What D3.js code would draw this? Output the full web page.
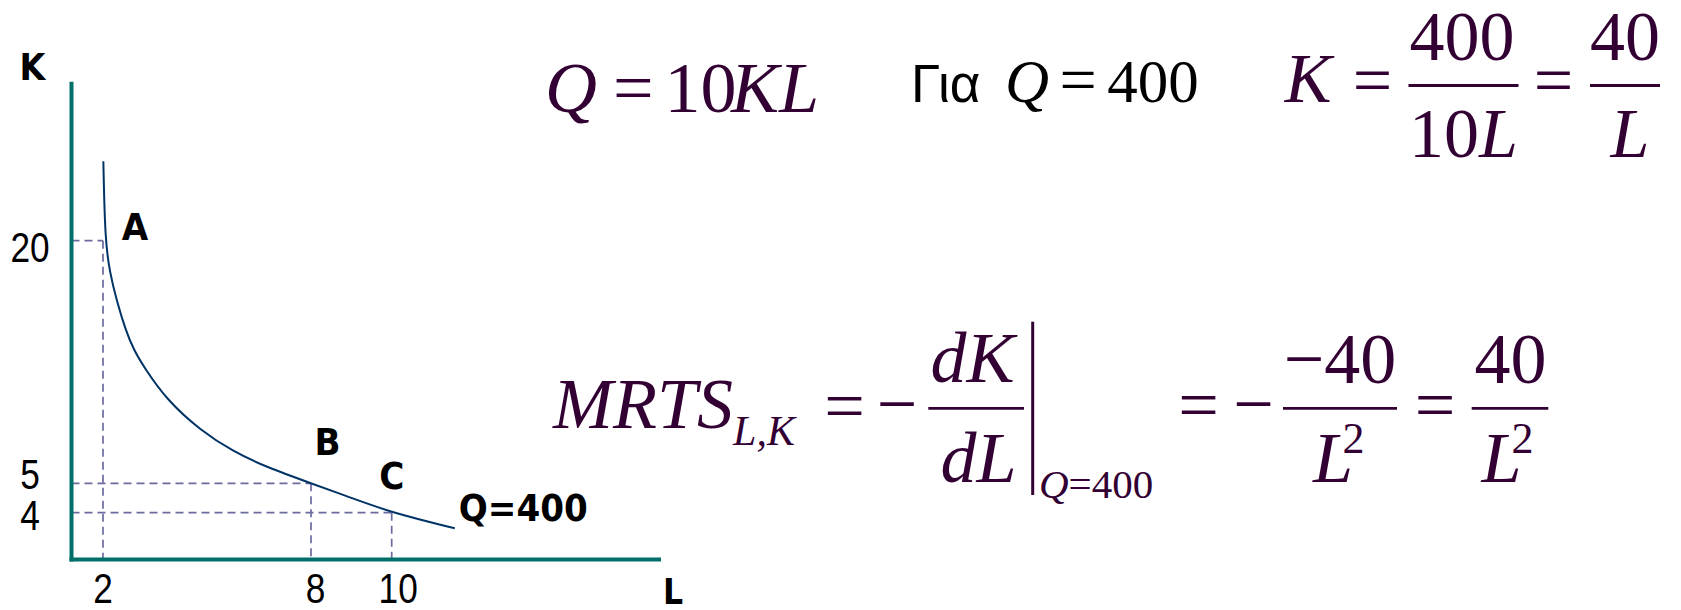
<!DOCTYPE html>
<html>
<head>
<meta charset="utf-8">
<script src="https://cdn.jsdelivr.net/npm/d3@7"></script>
<style>
  html, body { margin: 0; padding: 0; background: #ffffff; }
  svg { display: block; }
</style>
</head>
<body>
<svg id="chart" width="1681" height="610"></svg>
<script>
// Isoquant Q = 400 of the production function Q = 10KL (K = 40 / L)

// points along the drawn isoquant (L, K)
const curveL = [2.01, 2.06, 2.20, 2.39, 2.65, 2.89, 3.18, 3.84, 4.80, 5.76, 6.72, 8.00, 8.97, 10.00, 11.57];
const curveK = [24.9, 20.0, 18.0, 16.33, 14.48, 13.24, 12.19, 10.15, 8.29, 6.95, 6.00, 5.00, 4.52, 4.00, 2.67];

// marked input combinations
const pointNames = ["A", "B", "C"];
const pointL = [2, 8, 10];
const pointK = [20, 5, 4];

// axis labels
const lTicks = [2, 8, 10];
const kTicks = [20, 5, 4];
const lMax = 16.7;
const kMax = 29.8;
const curveName = "Q=400";

const svg = d3.select("#chart");
const W = 1681, H = 610;
svg.append("rect").attr("width", W).attr("height", H).attr("fill", "#ffffff");

// sketch-style axes: the spacing between marked values is not uniform
const x = d3.scaleLinear()
  .domain([0, 2, 8, 10, lMax])
  .range([71.5, 103, 311, 391.7, 661]);
const y = d3.scaleLinear()
  .domain([0, 4, 5, 20, kMax])
  .range([559.5, 512.7, 483.3, 240.7, 81.7]);

const AXIS = "#006e69";
const CURVE = "#003366";
const GUIDE = "#6b6b9e";
const MATH = "#330033";
const BOLD = "'DejaVu Sans Condensed', 'DejaVu Sans', sans-serif";
const SERIF = "'Liberation Serif', 'Times New Roman', serif";
const SANS = "'Liberation Sans', Arial, sans-serif";

// ---- dashed guide lines to the marked points
const guides = svg.append("g")
  .attr("stroke", GUIDE)
  .attr("stroke-width", 1.7)
  .attr("stroke-dasharray", "8,5")
  .attr("fill", "none");
pointL.forEach((l, i) => {
  guides.append("line")
    .attr("x1", x(0)).attr("x2", x(l))
    .attr("y1", y(pointK[i])).attr("y2", y(pointK[i]));
  guides.append("line")
    .attr("x1", x(l)).attr("x2", x(l))
    .attr("y1", y(pointK[i])).attr("y2", y(0));
});

// ---- axes
const axes = svg.append("g").attr("stroke", AXIS).attr("stroke-width", 4);
axes.append("line")
  .attr("x1", x(0)).attr("x2", x(0))
  .attr("y1", y(kMax)).attr("y2", y(0) + 2);
axes.append("line")
  .attr("x1", x(0) - 2).attr("x2", x(lMax))
  .attr("y1", y(0)).attr("y2", y(0));

// ---- isoquant (smooth spline through the sampled points)
const line = d3.line()
  .x((d, i) => x(curveL[i]))
  .y((d, i) => y(curveK[i]))
  .curve(d3.curveBasis);
svg.append("path")
  .datum(curveL)
  .attr("d", line)
  .attr("fill", "none")
  .attr("stroke", CURVE)
  .attr("stroke-width", 2);

// ---- tick labels (narrow sans)
const kNudge = {20: 5.5, 5: -10, 4: 2};
kTicks.forEach(v => {
  svg.append("text")
    .attr("transform", `translate(30,${y(v) + kNudge[v] + 15.5}) scale(0.82,1)`)
    .attr("text-anchor", "middle")
    .attr("font-family", SANS)
    .attr("font-size", 43)
    .attr("fill", "#000")
    .text(v);
});
const lNudge = {2: 0, 8: 4.5, 10: 6.5};
lTicks.forEach(v => {
  svg.append("text")
    .attr("transform", `translate(${x(v) + lNudge[v]},603) scale(0.82,1)`)
    .attr("text-anchor", "middle")
    .attr("font-family", SANS)
    .attr("font-size", 43)
    .attr("fill", "#000")
    .text(v);
});

// ---- axis titles and point labels (bold sans)
function bold(str, px, py, size, anchor) {
  return svg.append("text")
    .attr("x", px).attr("y", py)
    .attr("text-anchor", anchor || "middle")
    .attr("font-family", BOLD)
    .attr("font-weight", "bold")
    .attr("font-size", size)
    .attr("fill", "#000")
    .text(str);
}
bold("K", 32.5, 80, 37);
bold("L", 673, 604, 35);
const labelOffset = [[32, -0.7], [16.5, -28], [0, -23.7]];
pointNames.forEach((n, i) => {
  bold(n, x(pointL[i]) + labelOffset[i][0], y(pointK[i]) + labelOffset[i][1], 38);
});
bold(curveName, x(curveL[curveL.length - 1]) + 4, 520.5, 37, "start")
  .attr("textLength", 129).attr("lengthAdjust", "spacingAndGlyphs");

// ---- formulas
function math(pieces, px, py, size, anchor, color) {
  const t = svg.append("text")
    .attr("x", px).attr("y", py)
    .attr("text-anchor", anchor || "middle")
    .attr("font-family", SERIF)
    .attr("font-size", size)
    .attr("fill", color || MATH);
  pieces.forEach(p => {
    const s = t.append("tspan").text(p[0]);
    if (p[1]) s.attr("font-style", "italic");
  });
  return t;
}
function bar(x1, x2, yy, w) {
  svg.append("line")
    .attr("x1", x1).attr("x2", x2).attr("y1", yy).attr("y2", yy)
    .attr("stroke", MATH).attr("stroke-width", w || 2.8);
}

// Q = 10KL
math([["Q", true]], 571, 112, 72);
math([["=", false]], 633.3, 112, 72);
math([["10", false]], 700.5, 112, 72);
math([["KL", true]], 775, 112, 72);

// Για Q = 400
svg.append("text")
  .attr("x", 911).attr("y", 102)
  .attr("font-family", SANS)
  .attr("font-size", 53)
  .attr("fill", "#000")
  .text("Για");
math([["Q", true]], 1027, 102, 61, "middle", "#000");
math([["=", false]], 1078, 102, 66, "middle", "#000");
math([["400", false]], 1153, 102, 61, "middle", "#000");

// K = 400 / 10L = 40 / L
math([["K", true]], 1308, 102, 70);
math([["=", false]], 1372.5, 104, 70);
bar(1408.5, 1518.5, 85.5);
math([["400", false]], 1462, 59.5, 70);
math([["10", false], ["L", true]], 1463.5, 157, 70);
math([["=", false]], 1553.5, 104, 70);
bar(1590, 1660, 85.5);
math([["40", false]], 1625, 59.5, 70);
math([["L", true]], 1630, 157, 70);

// MRTS_{L,K} = - dK/dL |_{Q=400} = - (-40)/L^2 = 40/L^2
math([["MRTS", true]], 643, 427.5, 72);
math([["L,K", true]], 764, 445, 42);
math([["=", false]], 844.5, 430, 72);
math([["\u2212", false]], 897, 428, 72);
bar(928.3, 1024, 408.3);
math([["dK", true]], 972.5, 381.7, 72);
math([["dL", true]], 978.5, 481.7, 72);
svg.append("line")
  .attr("x1", 1032.7).attr("x2", 1032.7).attr("y1", 321.7).attr("y2", 495)
  .attr("stroke", MATH).attr("stroke-width", 3);
math([["Q", true], ["=400", false]], 1039, 498.3, 41, "start");
math([["=", false]], 1198.5, 429, 72);
math([["\u2212", false]], 1253.5, 428, 72);
bar(1283, 1397, 408.3);
math([["\u221240", false]], 1340, 382.7, 72);
math([["L", true]], 1333, 481.7, 72);
math([["2", false]], 1353.5, 452.7, 44);
math([["=", false]], 1435, 429, 72);
bar(1471.7, 1548.3, 408.3);
math([["40", false]], 1510.5, 382.7, 72);
math([["L", true]], 1501.5, 481.7, 72);
math([["2", false]], 1522.5, 452.7, 44);
</script>
</body>
</html>
